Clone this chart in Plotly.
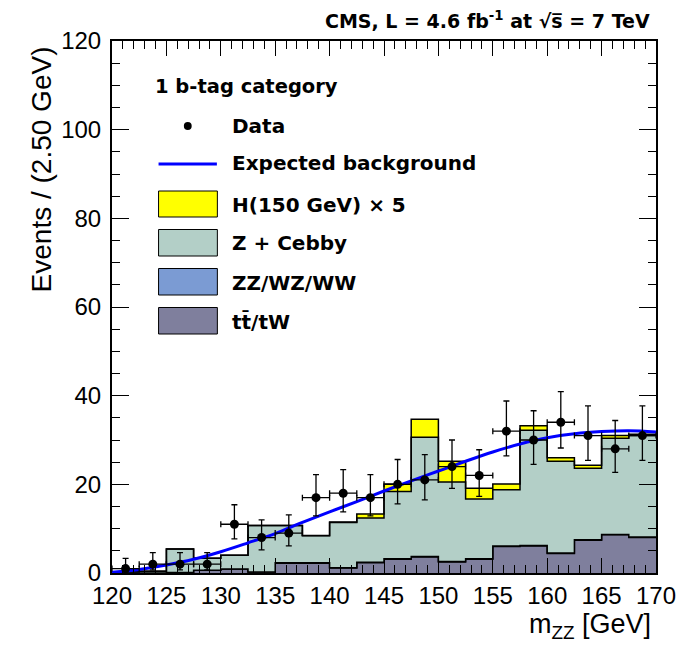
import plotly.graph_objects as go

# ---------------- data ----------------
bin_low = [120.0, 122.5, 125.0, 127.5, 130.0, 132.5, 135.0, 137.5, 140.0, 142.5,
           145.0, 147.5, 150.0, 152.5, 155.0, 157.5, 160.0, 162.5, 165.0, 167.5]
bin_width = 2.5

data_counts = [1, 2, 2, 2, 11, 8, 9, 17, 18, 17, 20, 21, 24, 22, 32, 30, 34, 31, 28, 31]
data_err_hi = [2.3, 2.6, 2.6, 2.6, 4.4, 4.0, 4.1, 5.2, 5.3, 5.2, 5.6, 5.7, 6.0, 5.8, 6.8, 6.6, 6.9, 6.7, 6.4, 6.7]
data_err_lo = [0.8, 1.3, 1.3, 1.3, 3.3, 2.8, 2.9, 4.1, 4.2, 4.1, 4.4, 4.5, 4.9, 4.7, 5.6, 5.5, 5.8, 5.6, 5.3, 5.6]

tt_tw = [0.0, 0.0, 0.1, 0.6, 0.9, 0.2, 2.2, 2.2, 1.1, 2.3, 3.1, 3.6, 2.5, 3.1, 6.0, 6.1, 4.4, 7.4, 8.6, 8.0]
zz_wz_ww = [0.0, 0.0, 0.0, 0.0, 0.0, 0.0, 0.1, 0.1, 0.1, 0.1, 0.1, 0.1, 0.1, 0.1, 0.1, 0.1, 0.1, 0.1, 0.1, 0.1]
z_cebby = [0.3, 0.4, 5.3, 2.7, 3.1, 10.5, 8.4, 6.1, 10.2, 10.0, 15.2, 26.9, 17.9, 13.5, 12.7, 26.0, 20.7, 16.1, 21.7, 22.9]
higgs_x5 = [0.0, 0.0, 0.0, 0.0, 0.0, 0.0, 0.0, 0.05, 0.1, 0.9, 1.7, 4.1, 4.7, 2.4, 1.3, 1.0, 0.8, 0.7, 0.6, 0.3]

fit_mass = [120.0, 122.5, 125.0, 127.5, 130.0, 132.5, 135.0, 137.5, 140.0, 142.5, 145.0,
            147.5, 150.0, 152.5, 155.0, 157.5, 160.0, 162.5, 165.0, 167.5, 170.0]
fit_events = [0.15, 0.8, 1.8, 3.1, 4.8, 6.8, 8.9, 11.4, 13.8, 16.1, 18.5,
              20.8, 23.0, 25.2, 27.3, 29.1, 30.5, 31.4, 31.9, 32.1, 31.8]

x_ticks = [120, 125, 130, 135, 140, 145, 150, 155, 160, 165, 170]
y_ticks = [0, 20, 40, 60, 80, 100, 120]

# ---------------- styles ----------------
C_TT = "#7f7f9d"
C_ZZ = "#7b9bd3"
C_Z = "#b3cfc7"
C_H = "#ffff00"
C_FIT = "#0000ff"

W, H = 688, 650
L, R, T, B = 112, 21, 41, 77
PW, PH = W - L - R, H - T - B

def px(xp):
    return (xp - L) / PW

def py(yp):
    return (T + PH - yp) / PH

edges = bin_low + [bin_low[-1] + bin_width]
centers = [b + bin_width / 2 for b in bin_low]

layers = [("tt", tt_tw, C_TT), ("zz", zz_wz_ww, C_ZZ), ("z", z_cebby, C_Z), ("h", higgs_x5, C_H)]

fig = go.Figure()
cum = [0.0] * len(bin_low)
for i, (name, vals, col) in enumerate(layers):
    cum = [c + v for c, v in zip(cum, vals)]
    fig.add_trace(go.Scatter(
        x=edges, y=cum + [cum[-1]], mode="lines",
        line=dict(shape="hv", color="black", width=1.5),
        fill="tozeroy" if i == 0 else "tonexty", fillcolor=col,
        showlegend=False, hoverinfo="skip"))

fig.add_trace(go.Scatter(
    x=fit_mass, y=fit_events, mode="lines",
    line=dict(color=C_FIT, width=3, shape="spline", smoothing=1.0),
    showlegend=False))

fig.add_trace(go.Scatter(
    x=centers, y=data_counts, mode="markers",
    marker=dict(color="black", size=9),
    error_y=dict(type="data", array=data_err_hi, arrayminus=data_err_lo, symmetric=False,
                 color="black", thickness=1.3, width=3),
    error_x=dict(type="constant", value=bin_width / 2, color="black", thickness=1.3, width=3),
    showlegend=False))

axis_common = dict(showline=True, linecolor="black", linewidth=2, mirror="ticks",
                   ticks="inside", tickcolor="black", tickwidth=1,
                   showgrid=False, zeroline=False,
                   tickfont=dict(family="Liberation Sans, Arial", size=24, color="black"))

fig.update_xaxes(range=[120, 170], tickvals=x_ticks, ticklen=15,
                 minor=dict(ticks="inside", dtick=1, ticklen=8, tickcolor="black", tickwidth=1),
                 **axis_common)
fig.update_yaxes(range=[0, 120], tickvals=y_ticks, ticklen=17, ticklabelstandoff=4,
                 minor=dict(ticks="inside", dtick=5, ticklen=8, tickcolor="black", tickwidth=1),
                 **axis_common)

BOLD = dict(family="DejaVu Sans", size=20, color="black", weight="bold")
ann = []
ann.append(dict(text="CMS, L = 4.6 fb<sup>-1</sup> at √s̅ = 7 TeV", xref="paper", yref="paper",
                x=px(663), y=py(20), xanchor="right", yanchor="middle", showarrow=False,
                font=dict(family="DejaVu Sans", size=19, color="black", weight="bold")))
ann.append(dict(text="Events / (2.50 GeV)", xref="paper", yref="paper", textangle=-90,
                x=px(40), y=py(44), xanchor="center", yanchor="top", showarrow=False,
                font=dict(family="Liberation Sans, Arial", size=28, color="black")))
ann.append(dict(text="m<sub>ZZ</sub> [GeV]", xref="paper", yref="paper",
                x=px(664), y=py(626), xanchor="right", yanchor="middle", showarrow=False,
                font=dict(family="Liberation Sans, Arial", size=27, color="black")))

ann.append(dict(text="1 b-tag category", xref="paper", yref="paper", x=px(154), y=py(86),
                xanchor="left", yanchor="middle", showarrow=False,
                font=dict(family="DejaVu Sans", size=19.5, color="black", weight="bold")))
legend_rows = [("Data", 126), ("Expected background", 163), ("H(150 GeV) × 5", 205),
               ("Z + Cebby", 243), ("ZZ/WZ/WW", 283), ("tt̄/tW", 322)]
for txt, yy in legend_rows:
    ann.append(dict(text=txt, xref="paper", yref="paper", x=px(232), y=py(yy),
                    xanchor="left", yanchor="middle", showarrow=False, font=BOLD))

shapes = []
shapes.append(dict(type="circle", xref="paper", yref="paper",
                   x0=px(185.3), x1=px(193.3), y0=py(122), y1=py(130),
                   fillcolor="black", line=dict(color="black", width=0)))
shapes.append(dict(type="line", xref="paper", yref="paper",
                   x0=px(159.5), x1=px(219), y0=py(164), y1=py(164),
                   line=dict(color=C_FIT, width=3)))
for col, (y0, y1) in zip([C_H, C_Z, C_ZZ, C_TT],
                         [(191, 217), (229.5, 256), (268.5, 295), (307.5, 334)]):
    shapes.append(dict(type="rect", xref="paper", yref="paper",
                       x0=px(159.5), x1=px(219.5), y0=py(y1), y1=py(y0),
                       fillcolor=col, line=dict(color="black", width=1)))

fig.update_layout(width=W, height=H, margin=dict(l=L, r=R, t=T, b=B),
                  paper_bgcolor="white", plot_bgcolor="white",
                  annotations=ann, shapes=shapes, showlegend=False)

fig.write_html("out.html")
